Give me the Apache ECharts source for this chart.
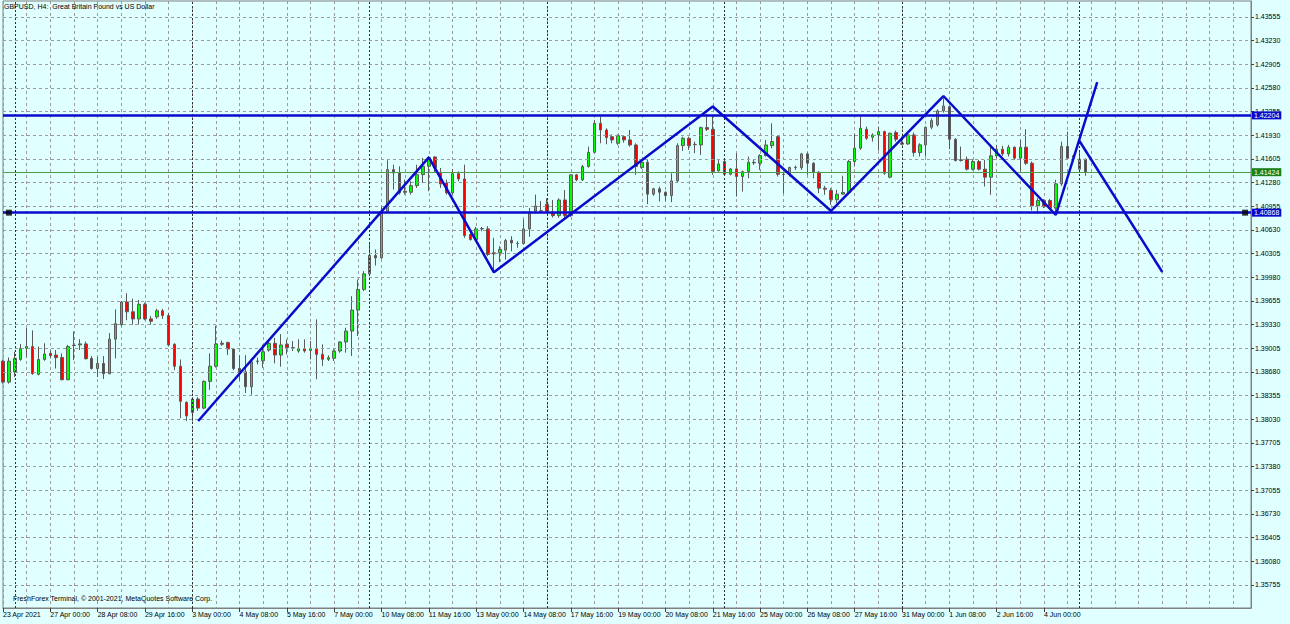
<!DOCTYPE html>
<html><head><meta charset="utf-8">
<script src="https://cdn.jsdelivr.net/npm/echarts@6/dist/echarts.min.js"></script>
<style>html,body{margin:0;padding:0;background:#e0ffff;overflow:hidden}#c{width:1290px;height:624px;}</style>
</head><body><div id="c"></div><script>
// ---- data (GBPUSD H4, bars from 23 Apr 2021 16:00) ----
const opens = [
1.38829,1.38541,1.38681,1.38852,1.39005,1.39029,1.38648,1.38852,1.38936,1.38913,
1.38880,1.38574,1.39047,1.39052,1.39066,1.38866,1.38727,1.38797,1.38657,1.39131,
1.39330,1.39641,1.39507,1.39409,1.39609,1.39409,1.39437,1.39521,1.39456,1.39061,
1.38759,1.38263,1.38124,1.38309,1.38184,1.38551,1.38759,1.39075,1.39084,1.38996,
1.38730,1.38683,1.38477,1.38825,1.38834,1.38981,1.39074,1.38913,1.39060,1.39014,
1.38968,1.39000,1.38977,1.39000,1.38922,1.38854,1.38868,1.38968,1.39092,1.39242,
1.39530,1.39814,1.40028,1.40280,1.40248,1.40888,1.41459,1.41413,1.41162,1.41148,
1.41239,1.41390,1.41505,1.41633,1.41422,1.41276,1.41139,1.41404,1.41331,1.40568,
1.40499,1.40650,1.40645,1.40316,1.40316,1.40353,1.40490,1.40444,1.40444,1.40645,
1.40890,1.40893,1.40983,1.40860,1.40827,1.41042,1.40827,1.41387,1.41318,1.41501,
1.41697,1.42095,1.42004,1.41912,1.41821,1.41912,1.41867,1.41798,1.41487,1.41560,
1.41122,1.41195,1.41149,1.41103,1.41304,1.41789,1.41889,1.41807,1.41798,1.42036,
1.42013,1.41442,1.41570,1.41396,1.41469,1.41364,1.41432,1.41560,1.41547,1.41652,
1.41789,1.41912,1.41396,1.41396,1.41492,1.41487,1.41675,1.41547,1.41423,1.41204,
1.41172,1.41045,1.41122,1.41145,1.41570,1.41753,1.42013,1.41904,1.41936,1.41981,
1.41355,1.41968,1.41822,1.41812,1.41936,1.41693,1.41799,1.42041,1.42073,1.42265,
1.42324,1.41876,1.41593,1.41602,1.41465,1.41570,1.41465,1.41355,1.41648,1.41739,
1.41675,1.41767,1.41616,1.41767,1.41547,1.40962,1.41035,1.41035,1.40930,1.41264,
1.41776,1.41648,1.41465,1.41602];
const highs = [
1.38850,1.38880,1.38959,1.39066,1.39284,1.39251,1.39029,1.39075,1.38973,1.38982,
1.38936,1.39052,1.39237,1.39131,1.39098,1.38899,1.38889,1.38899,1.39214,1.39539,
1.39655,1.39762,1.39687,1.39669,1.39632,1.39446,1.39548,1.39548,1.39493,1.39075,
1.38852,1.38277,1.38333,1.38333,1.38565,1.38936,1.39316,1.39112,1.39098,1.39005,
1.38913,1.38911,1.38866,1.38877,1.39056,1.39097,1.39150,1.39200,1.39128,1.39105,
1.39128,1.39128,1.39105,1.39402,1.39060,1.38909,1.38991,1.39105,1.39288,1.39722,
1.39951,1.40065,1.40453,1.40362,1.40956,1.41587,1.41527,1.41505,1.41322,1.41299,
1.41527,1.41619,1.41642,1.41642,1.41482,1.41322,1.41468,1.41436,1.41527,1.40591,
1.40673,1.40673,1.40682,1.40522,1.40408,1.40508,1.40545,1.40476,1.40773,1.40933,
1.41116,1.41027,1.41065,1.41042,1.41065,1.41179,1.41396,1.41400,1.41524,1.41775,
1.42141,1.42186,1.42027,1.41944,1.41944,1.41935,1.42004,1.41821,1.41580,1.41593,
1.41210,1.41227,1.41160,1.41409,1.41821,1.41912,1.41912,1.41844,1.42050,1.42225,
1.42209,1.41593,1.41615,1.41480,1.41684,1.41445,1.41638,1.41593,1.41670,1.41867,
1.42095,1.41935,1.41423,1.41500,1.41515,1.41690,1.41697,1.41560,1.41440,1.41236,
1.41204,1.41182,1.41374,1.41593,1.41949,1.42187,1.42050,1.41958,1.42050,1.41995,
1.41968,1.41995,1.41913,1.41958,1.41968,1.41821,1.42050,1.42164,1.42288,1.42438,
1.42333,1.41890,1.41776,1.41639,1.41602,1.41593,1.41593,1.41776,1.41799,1.41785,
1.41799,1.41776,1.41867,1.42013,1.41570,1.41067,1.41054,1.41054,1.41319,1.41844,
1.41981,1.41662,1.41707,1.41611];
const lows = [
1.38520,1.38520,1.38611,1.38834,1.38880,1.38643,1.38634,1.38834,1.38866,1.38727,
1.38565,1.38565,1.38843,1.38982,1.38852,1.38713,1.38611,1.38583,1.38648,1.38866,
1.39307,1.39391,1.39330,1.39330,1.39391,1.39330,1.39409,1.39409,1.39029,1.38704,
1.38045,1.38008,1.38008,1.38147,1.38170,1.38435,1.38741,1.39038,1.38913,1.38704,
1.38564,1.38391,1.38368,1.38784,1.38739,1.38958,1.38798,1.38753,1.38922,1.38968,
1.38945,1.38945,1.38854,1.38580,1.38763,1.38831,1.38831,1.38945,1.38945,1.38900,
1.39174,1.39791,1.39997,1.40142,1.40234,1.40865,1.41185,1.41116,1.41116,1.41116,
1.41208,1.41276,1.41162,1.41413,1.41208,1.41116,1.41116,1.41299,1.40522,1.40485,
1.40472,1.40613,1.40270,1.40051,1.40188,1.40224,1.40339,1.40385,1.40430,1.40536,
1.40856,1.40870,1.40860,1.40800,1.40800,1.40800,1.40810,1.41300,1.41304,1.41487,
1.41684,1.41821,1.41807,1.41821,1.41798,1.41830,1.41775,1.41387,1.41469,1.40985,
1.41100,1.41021,1.41030,1.41012,1.41286,1.41716,1.41729,1.41684,1.41661,1.41990,
1.41387,1.41432,1.41387,1.41380,1.41090,1.41158,1.41341,1.41524,1.41455,1.41638,
1.41752,1.41364,1.41135,1.41364,1.41455,1.41455,1.41387,1.41341,1.41135,1.41113,
1.40976,1.40999,1.41113,1.41136,1.41501,1.41730,1.41867,1.41844,1.41721,1.41387,
1.41341,1.41844,1.41799,1.41799,1.41639,1.41639,1.41639,1.42013,1.42050,1.42242,
1.41739,1.41570,1.41570,1.41447,1.41447,1.41447,1.41227,1.41113,1.41616,1.41648,
1.41639,1.41593,1.41433,1.41524,1.40898,1.40853,1.40930,1.40907,1.40862,1.41236,
1.41593,1.41593,1.41456,1.41374];
const closes = [
1.38541,1.38829,1.38866,1.39005,1.39029,1.38657,1.38852,1.38927,1.38903,1.38876,
1.38574,1.39029,1.39042,1.39066,1.38862,1.38727,1.38797,1.38657,1.39131,1.39344,
1.39641,1.39507,1.39409,1.39609,1.39409,1.39377,1.39521,1.39456,1.39052,1.38759,
1.38277,1.38077,1.38309,1.38184,1.38551,1.38759,1.39066,1.39061,1.38996,1.38727,
1.38683,1.38477,1.38820,1.38830,1.38958,1.39074,1.38913,1.39051,1.39014,1.39010,
1.39000,1.38968,1.39005,1.38922,1.38854,1.38877,1.38968,1.39092,1.39242,1.39530,
1.39814,1.40028,1.40280,1.40248,1.40888,1.41459,1.41413,1.41139,1.41148,1.41239,
1.41390,1.41505,1.41619,1.41482,1.41262,1.41139,1.41404,1.41331,1.40554,1.40499,
1.40645,1.40645,1.40293,1.40302,1.40362,1.40485,1.40453,1.40447,1.40645,1.40874,
1.40960,1.40890,1.40890,1.40827,1.41042,1.40827,1.41387,1.41318,1.41501,1.41697,
1.42095,1.42004,1.41899,1.41867,1.41926,1.41867,1.41798,1.41501,1.41560,1.41122,
1.41195,1.41149,1.41103,1.41304,1.41789,1.41889,1.41789,1.41802,1.42036,1.42013,
1.41432,1.41538,1.41396,1.41469,1.41364,1.41432,1.41560,1.41552,1.41652,1.41798,
1.41844,1.41396,1.41391,1.41487,1.41487,1.41675,1.41547,1.41423,1.41204,1.41190,
1.41045,1.41122,1.41145,1.41570,1.41753,1.42027,1.41890,1.41936,1.41981,1.41410,
1.41958,1.41876,1.41808,1.41936,1.41693,1.41799,1.42041,1.42132,1.42265,1.42333,
1.41876,1.41584,1.41584,1.41465,1.41570,1.41465,1.41355,1.41648,1.41739,1.41675,
1.41767,1.41616,1.41767,1.41547,1.40962,1.41035,1.40953,1.40930,1.41264,1.41776,
1.41616,1.41630,1.41602,1.41424];
const priceTicks = [1.35755,1.36080,1.36405,1.36730,1.37055,1.37380,1.37705,1.38030,1.38355,1.38680,
1.39005,1.39330,1.39655,1.39980,1.40305,1.40630,1.40955,1.41280,1.41605,1.41930,1.42255,1.42580,1.42905,1.43230,1.43555];
const timeLabels = ['23 Apr 2021','27 Apr 00:00','28 Apr 08:00','29 Apr 16:00','3 May 00:00','4 May 08:00',
'5 May 16:00','7 May 00:00','10 May 08:00','11 May 16:00','13 May 00:00','14 May 08:00','17 May 16:00',
'19 May 00:00','20 May 08:00','21 May 16:00','25 May 00:00','26 May 08:00','27 May 16:00','31 May 00:00',
'1 Jun 08:00','2 Jun 16:00','4 Jun 00:00'];
const levelHigh = 1.42204, levelLow = 1.40868, bidPrice = 1.41424;
const zigzag = [[33,1.38007],[72,1.41628],[83,1.40049],[120,1.42326],[140,1.40891],[159,1.42470],[178,1.40836],[185,1.42662]];
const projection = [[182,1.41852],[196,1.40053]];
const anchorBars = [1, 210];

// ---- categories: H4 bar times, weekdays only, incl. empty future bars ----
const totalBars = 212;
const barTimes = [];
let t = Date.UTC(2021, 3, 23, 16);
while (barTimes.length < totalBars) {
  const d = new Date(t); const wd = d.getUTCDay();
  if (wd !== 0 && wd !== 6) barTimes.push(t);
  t += 4 * 3600e3;
}
const cats = barTimes.map(v => new Date(v).toISOString().slice(0, 16));
const weekStarts = [];
barTimes.forEach((v, i) => { const d = new Date(v); if (d.getUTCDay() === 1 && d.getUTCHours() === 0) weekStarts.push(i); });

const candleData = opens.map((o, i) => [o, closes[i], lows[i], highs[i]]);
const FONT = 'Liberation Sans';
const lastLabelIdx = (timeLabels.length - 1) * 8;
const labelShown = (i) => i % 8 === 0 && i <= lastLabelIdx;
const tag = (v, bg) => ({show: true, position: 'end', distance: 1, formatter: v.toFixed(5), color: '#fff',
  backgroundColor: bg, padding: [1, 2, 0, 2], fontSize: 7, fontFamily: FONT});

const chart = echarts.init(document.getElementById('c'), null, {renderer: 'svg'});
chart.setOption({
  animation: false,
  backgroundColor: '#e0ffff',
  textStyle: {fontFamily: FONT},
  title: {text: 'GBPUSD, H4:  Great Britain Pound vs US Dollar', left: 4, top: 3, padding: 0,
    textStyle: {fontSize: 7, fontWeight: 'normal', color: '#000', fontFamily: FONT}},
  graphic: [{type: 'text', left: 13, top: 595, silent: true,
    style: {text: 'FreshForex Terminal, © 2001-2021, MetaQuotes Software Corp.', fill: '#000', font: '7px "Liberation Sans"'}}],
  grid: {left: 1, right: 39, top: 1, bottom: 16, show: true, backgroundColor: '#e0ffff', borderColor: '#808080', borderWidth: 1},
  xAxis: {
    type: 'category', data: cats, boundaryGap: false,
    axisLine: {show: true, lineStyle: {color: '#808080'}},
    axisTick: {show: true, interval: labelShown, length: 4, lineStyle: {color: '#404040'}},
    axisLabel: {interval: labelShown, align: 'left', margin: 3, fontSize: 7, color: '#000', fontFamily: FONT,
      formatter: (v, i) => labelShown(i) ? timeLabels[i / 8] : ''},
    splitLine: {show: true, interval: (i) => i % 4 === 0, lineStyle: {color: '#9a9a9a', type: [3, 3], width: 1}}
  },
  yAxis: {
    type: 'value', position: 'right', min: 1.354391, max: 1.437747, scale: true,
    axisLine: {show: true, lineStyle: {color: '#808080'}},
    axisTick: {show: true, customValues: priceTicks, length: 3, lineStyle: {color: '#404040'}},
    axisLabel: {customValues: priceTicks, formatter: v => v.toFixed(5), margin: 4, fontSize: 7, color: '#000', fontFamily: FONT},
    splitLine: {show: false}
  },
  series: [
    {type: 'line', name: 'grid', data: closes, symbol: 'none', lineStyle: {opacity: 0, width: 0}, silent: true, z: 1,
      markLine: {silent: true, symbol: 'none', precision: 5, label: {show: false}, animation: false,
        data: priceTicks.map(v => ({yAxis: v, lineStyle: {color: '#9a9a9a', type: [3, 3], width: 1}}))
          .concat(weekStarts.map(i => ({xAxis: cats[i], lineStyle: {color: '#303030', type: [2, 2], width: 1}})))}},
    {type: 'candlestick', name: 'GBPUSD', data: candleData, barWidth: 3, z: 3,
      itemStyle: {color: '#00ff00', color0: '#ff0000', borderColor: '#5a5a5a', borderColor0: '#5a5a5a', borderWidth: 1}},
    {type: 'line', name: 'levels', data: closes, symbol: 'none', silent: true, z: 4, lineStyle: {opacity: 0, width: 0},
      markLine: {silent: true, symbol: 'none', precision: 5, animation: false,
        data: [
          {yAxis: levelHigh, lineStyle: {color: '#0a0acc', width: 2.5, type: 'solid'}, label: tag(levelHigh, '#0a0acc')},
          {yAxis: levelLow, lineStyle: {color: '#0a0acc', width: 2.5, type: 'solid'}, label: tag(levelLow, '#0a0acc')},
          {yAxis: bidPrice, lineStyle: {color: '#4f9f4f', width: 1, type: 'solid'}, label: tag(bidPrice, '#1a801a')}
        ]}},
    {type: 'line', name: 'zigzag', data: zigzag, symbol: 'none', silent: true, z: 5,
      lineStyle: {color: '#0a0acc', width: 2.5}},
    {type: 'line', name: 'projection', data: projection, symbol: 'none', silent: true, z: 5,
      lineStyle: {color: '#0a0acc', width: 2.5}},
    {type: 'scatter', name: 'anchors', data: anchorBars.map(i => [i, levelLow]), symbol: 'rect', symbolSize: 6, silent: true, z: 6,
      itemStyle: {color: '#000'}}
  ]
});
</script></body></html>
